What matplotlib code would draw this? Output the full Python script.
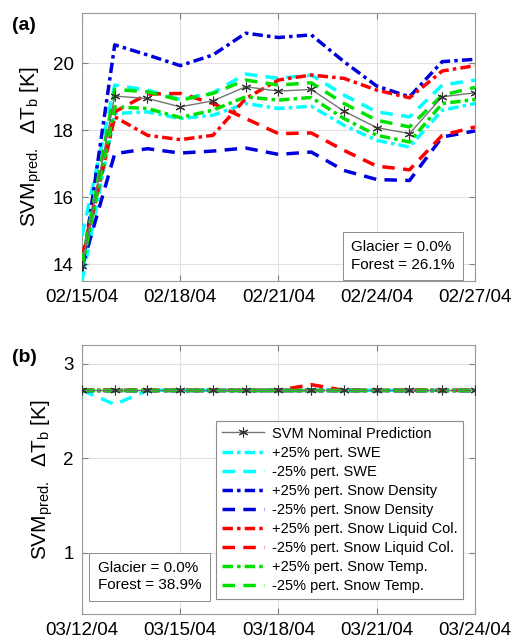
import datetime as dt

import matplotlib
matplotlib.use('Agg')
import matplotlib.pyplot as plt
import matplotlib.dates as mdates

plt.rcParams['font.family'] = ['Liberation Sans', 'DejaVu Sans']
plt.rcParams['mathtext.fontset'] = 'custom'
plt.rcParams['mathtext.rm'] = 'Liberation Sans'
plt.rcParams['mathtext.it'] = 'Liberation Sans'

# ---- data -------------------------------------------------------------
start_a = dt.date(2004, 2, 15)
start_b = dt.date(2004, 3, 12)
n_days = 13

nominal_a = [13.95, 19.02, 18.95, 18.70, 18.88, 19.30, 19.17, 19.22, 18.57, 18.08, 17.90, 19.00, 19.12]
swe_p_a = [13.50, 18.50, 18.55, 18.35, 18.45, 18.80, 18.65, 18.72, 18.15, 17.70, 17.50, 18.60, 18.80]
swe_m_a = [14.85, 19.35, 19.20, 18.92, 19.12, 19.68, 19.55, 19.65, 19.05, 18.55, 18.40, 19.35, 19.50]
dens_p_a = [13.80, 20.55, 20.25, 19.93, 20.25, 20.90, 20.77, 20.85, 20.05, 19.32, 19.00, 20.05, 20.12]
dens_m_a = [13.90, 17.30, 17.45, 17.32, 17.38, 17.47, 17.28, 17.35, 16.80, 16.53, 16.50, 17.80, 17.98]
liq_p_a = [14.10, 18.40, 17.85, 17.72, 17.85, 18.95, 19.50, 19.65, 19.55, 19.20, 18.97, 19.77, 19.93]
liq_m_a = [14.20, 18.55, 19.08, 19.10, 18.80, 18.35, 17.90, 17.92, 17.40, 16.93, 16.82, 17.85, 18.10]
temp_p_a = [13.90, 18.70, 18.65, 18.38, 18.60, 19.00, 18.90, 18.98, 18.35, 17.85, 17.65, 18.80, 18.92]
temp_m_a = [14.00, 19.22, 19.15, 18.90, 19.10, 19.50, 19.35, 19.42, 18.80, 18.30, 18.10, 19.05, 19.28]

nominal_b = [2.72] * 13
swe_p_b = [2.72] * 13
swe_m_b = [2.72, 2.57, 2.72, 2.72, 2.72, 2.72, 2.72, 2.72, 2.72, 2.72, 2.72, 2.72, 2.72]
dens_p_b = [2.72] * 13
dens_m_b = [2.72] * 13
liq_p_b = [2.72] * 13
liq_m_b = [2.72, 2.72, 2.72, 2.72, 2.72, 2.72, 2.72, 2.78, 2.72, 2.72, 2.72, 2.72, 2.72]
temp_p_b = [2.72] * 13
temp_m_b = [2.72] * 13

labels = ['SVM Nominal Prediction',
          '+25% pert. SWE', '-25% pert. SWE',
          '+25% pert. Snow Density', '-25% pert. Snow Density',
          '+25% pert. Snow Liquid Col.', '-25% pert. Snow Liquid Col.',
          '+25% pert. Snow Temp.', '-25% pert. Snow Temp.']
info_a = 'Glacier = 0.0%\nForest = 26.1%'
info_b = 'Glacier = 0.0%\nForest = 38.9%'

# ---- styles -----------------------------------------------------------
DASH = (0, (3.6, 2.4))
DASHDOT = (0, (3.0, 1.2, 1.0, 1.2))
colors = ['cyan', 'cyan', '#0000dd', '#0000dd', 'red', 'red', '#00e000', '#00e000']
styles = [DASHDOT, DASH] * 4
YLABEL = r'SVM$_{\mathrm{pred.}}$  $\Delta$T$_\mathrm{b}$ [K]'


def panel(ax, start, nominal, series, ylim, yticks, info, info_pos, tag):
    days = [start + dt.timedelta(days=i) for i in range(n_days)]
    handles = []
    h, = ax.plot(days, nominal, color='0.45', lw=1.0, marker=(6, 2, 0), ms=7,
                 mec='0.2', mfc='0.2', mew=0.8, zorder=5)
    handles.append(h)
    for y, c, ls in zip(series, colors, styles):
        h, = ax.plot(days, y, color=c, ls=ls, lw=2.5, zorder=3)
        handles.append(h)
    ax.set_xlim(days[0], days[-1])
    ax.set_ylim(*ylim)
    ax.set_yticks(yticks)
    ax.set_xticks(days[::3])
    ax.xaxis.set_major_formatter(mdates.DateFormatter('%m/%d/%y'))
    ax.grid(True, color='0.88', lw=0.8)
    ax.set_axisbelow(True)
    ax.tick_params(direction='in', top=True, right=True, labelsize=13.5,
                   color='0.5', length=4, pad=6)
    for s in ax.spines.values():
        s.set_color('0.6')
    ax.set_ylabel(YLABEL, fontsize=15, labelpad=6)
    ax.text(*info_pos, info, transform=ax.transAxes, fontsize=11,
            va='bottom', ha='left', linespacing=1.3,
            bbox=dict(boxstyle='square,pad=0.55', fc='white', ec='0.55', lw=0.7))
    ax.text(-0.178, 0.985, tag, transform=ax.transAxes, fontsize=14,
            fontweight='bold', va='top', ha='left')
    return handles


fig = plt.figure(figsize=(5.14, 6.44), dpi=100)
ax1 = fig.add_axes([0.1595, 0.5637, 0.7646, 0.416])
ax2 = fig.add_axes([0.1595, 0.0466, 0.7646, 0.4177])

panel(ax1, start_a, nominal_a,
      [swe_p_a, swe_m_a, dens_p_a, dens_m_a, liq_p_a, liq_m_a, temp_p_a, temp_m_a],
      (13.5, 21.5), [14, 16, 18, 20], info_a, (0.685, 0.035), '(a)')
hs = panel(ax2, start_b, nominal_b,
           [swe_p_b, swe_m_b, dens_p_b, dens_m_b, liq_p_b, liq_m_b, temp_p_b, temp_m_b],
           (0.35, 3.2), [1, 2, 3], info_b, (0.04, 0.08), '(b)')

leg = ax2.legend(hs, labels, loc='lower right', bbox_to_anchor=(0.97, 0.055),
                 fontsize=10.5, handlelength=2.9, handletextpad=0.5,
                 labelspacing=0.35, borderpad=0.4, borderaxespad=0,
                 fancybox=False, framealpha=1, edgecolor='0.55')
leg.get_frame().set_linewidth(0.8)
leg.set_zorder(10)

fig.savefig('out.png', dpi=100)
